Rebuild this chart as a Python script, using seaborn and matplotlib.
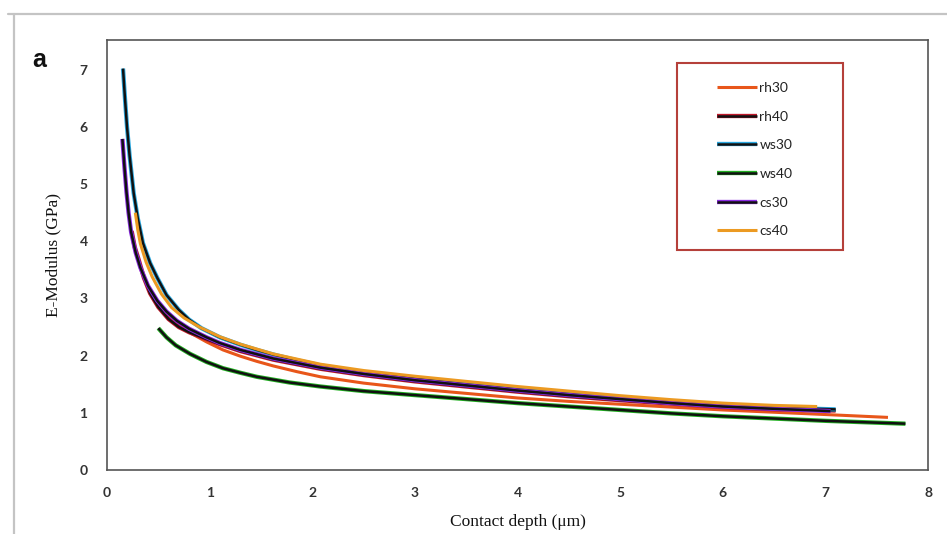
import matplotlib
matplotlib.use("Agg")
import matplotlib.pyplot as plt
import matplotlib.patheffects as pe
from matplotlib.patches import Rectangle
from matplotlib.lines import Line2D
import seaborn as sns
import pandas as pd

# ---- data ----
rh30_x = [0.56, 0.63, 0.72, 0.82, 0.97, 1.13, 1.30, 1.46, 1.62, 1.85, 2.08, 2.5, 3.0, 3.5, 4.0, 4.5, 5.0, 5.5, 6.0, 6.5, 7.0, 7.61]
rh30_y = [2.75, 2.63, 2.50, 2.39, 2.24, 2.10, 1.99, 1.90, 1.82, 1.72, 1.63, 1.52, 1.42, 1.34, 1.26, 1.20, 1.15, 1.10, 1.05, 1.01, 0.97, 0.92]

rh40_x = [0.24, 0.27, 0.31, 0.36, 0.42, 0.5, 0.6, 0.7, 0.8, 0.97, 1.1, 1.3, 1.62, 2.08, 2.5, 3.0, 3.5, 4.0, 4.5, 5.0, 5.5, 6.0, 6.5, 7.1]
rh40_y = [4.18, 3.90, 3.67, 3.36, 3.09, 2.85, 2.64, 2.50, 2.41, 2.29, 2.20, 2.08, 1.93, 1.77, 1.66, 1.55, 1.46, 1.37, 1.29, 1.22, 1.16, 1.10, 1.06, 1.04]

ws30_x = [0.156, 0.175, 0.195, 0.22, 0.26, 0.3, 0.35, 0.42, 0.49, 0.58, 0.7, 0.8, 0.92, 1.1, 1.3, 1.46, 1.62, 1.85, 2.08, 2.5, 3.0, 3.5, 4.0, 4.5, 5.0, 5.5, 6.0, 6.5, 7.1]
ws30_y = [7.02, 6.50, 6.00, 5.50, 4.84, 4.40, 3.97, 3.62, 3.36, 3.06, 2.80, 2.63, 2.48, 2.32, 2.19, 2.10, 2.02, 1.92, 1.83, 1.71, 1.60, 1.50, 1.41, 1.33, 1.25, 1.19, 1.13, 1.09, 1.06]

ws40_x = [0.5, 0.58, 0.67, 0.81, 0.97, 1.13, 1.3, 1.46, 1.62, 1.78, 2.08, 2.5, 3.0, 3.5, 4.0, 4.5, 5.0, 5.5, 6.0, 6.5, 7.0, 7.78]
ws40_y = [2.48, 2.32, 2.18, 2.03, 1.89, 1.78, 1.70, 1.63, 1.58, 1.53, 1.46, 1.38, 1.31, 1.24, 1.17, 1.11, 1.05, 0.99, 0.94, 0.90, 0.86, 0.81]

cs30_x = [0.15, 0.17, 0.19, 0.21, 0.235, 0.28, 0.325, 0.4, 0.49, 0.58, 0.68, 0.8, 0.97, 1.1, 1.3, 1.62, 2.08, 2.5, 3.0, 3.5, 4.0, 4.5, 5.0, 5.5, 6.0, 6.5, 7.05]
cs30_y = [5.79, 5.30, 4.86, 4.50, 4.16, 3.80, 3.54, 3.22, 2.96, 2.77, 2.61, 2.47, 2.32, 2.22, 2.10, 1.95, 1.79, 1.68, 1.57, 1.48, 1.39, 1.31, 1.24, 1.17, 1.11, 1.07, 1.03]

cs40_x = [0.276, 0.3, 0.325, 0.38, 0.44, 0.53, 0.63, 0.75, 0.9, 1.1, 1.3, 1.62, 2.08, 2.5, 3.0, 3.5, 4.0, 4.5, 5.0, 5.5, 6.0, 6.5, 6.92]
cs40_y = [4.50, 4.20, 3.96, 3.64, 3.38, 3.08, 2.84, 2.66, 2.50, 2.33, 2.20, 2.03, 1.85, 1.74, 1.64, 1.55, 1.46, 1.38, 1.30, 1.23, 1.17, 1.13, 1.11]

series_names = ["rh30", "rh40", "ws30", "ws40", "cs30", "cs40"]
series_x = [rh30_x, rh40_x, ws30_x, ws40_x, cs30_x, cs40_x]
series_y = [rh30_y, rh40_y, ws30_y, ws40_y, cs30_y, cs40_y]

x_ticks = [0, 1, 2, 3, 4, 5, 6, 7, 8]
y_ticks = [0, 1, 2, 3, 4, 5, 6, 7]

# style: (main colour, edge colour or None)
styles = {
    "rh30": ("#e8561a", None),
    "rh40": ("#111111", "#c0182a"),
    "ws30": ("#111111", "#2aa8e0"),
    "ws40": ("#111111", "#22b022"),
    "cs30": ("#111111", "#8a2be2"),
    "cs40": ("#ec9a22", None),
}

sns.set_style("white")
plt.rcParams["font.family"] = ["Lato", "DejaVu Sans"]

fig = plt.figure(figsize=(9.47, 5.34), dpi=100)
ax = fig.add_axes([107 / 947, 1 - 470 / 534, (928 - 107) / 947, (470 - 40) / 534])

for name, xs, ys in zip(series_names, series_x, series_y):
    df = pd.DataFrame({"x": xs, "y": ys})
    col, edge = styles[name]
    kw = dict(solid_joinstyle="round", solid_capstyle="butt")
    if edge is None:
        sns.lineplot(data=df, x="x", y="y", ax=ax, color=col, lw=2.2,
                     sort=False, estimator=None, label=name, **kw)
    else:
        sns.lineplot(data=df, x="x", y="y", ax=ax, color=col, lw=1.8,
                     sort=False, estimator=None, label=name,
                     path_effects=[pe.Stroke(linewidth=3.1, foreground=edge, joinstyle="round"), pe.Normal()], **kw)

ax.set_xlim(0, 8)
ax.set_ylim(0, 7.52)
ax.set_xticks(x_ticks)
ax.set_yticks(y_ticks)
ax.tick_params(length=0, labelsize=10, colors="#333333")
ax.tick_params(axis="x", pad=12)
ax.tick_params(axis="y", pad=14)
for lab in ax.get_xticklabels() + ax.get_yticklabels():
    lab.set_fontweight("bold")

for s in ax.spines.values():
    s.set_visible(True)
    s.set_color("#555555")
    s.set_linewidth(1.2)

ax.set_xlabel("Contact depth (\u03bcm)", family=["Liberation Serif", "DejaVu Serif"], fontsize=12.5, color="#111111")
ax.set_ylabel("E-Modulus (GPa)", family=["Liberation Serif", "DejaVu Serif"], fontsize=12.5, color="#111111")
ax.xaxis.set_label_coords(0.5, -0.102)
ax.yaxis.set_label_coords(-0.056, 0.5)

# legend inside a separate red box
ax.add_patch(Rectangle((0.694, 0.512), 0.202, 0.435, transform=ax.transAxes,
                       fill=False, edgecolor="#b5403a", lw=1.5, zorder=5))
leg = ax.legend(loc="center", bbox_to_anchor=(0.789, 0.722), frameon=False,
                fontsize=10, labelspacing=1.2, handlelength=2.9, handletextpad=0.15)
for t in leg.get_texts():
    t.set_color("#222222")

fig.text(32 / 947, 1 - 60 / 534, "a", fontsize=18, fontweight="bold",
         family=["Liberation Sans", "DejaVu Sans"], ha="left", va="center", color="#111111")

# outer grey border (top and left)
fig.add_artist(Line2D([8 / 947, 1.0], [1 - 14 / 534, 1 - 14 / 534], transform=fig.transFigure, color="#c4c4c4", lw=1.6))
fig.add_artist(Line2D([14 / 947, 14 / 947], [0, 1 - 14 / 534], transform=fig.transFigure, color="#c4c4c4", lw=1.6))

fig.savefig("out.png", dpi=100)
